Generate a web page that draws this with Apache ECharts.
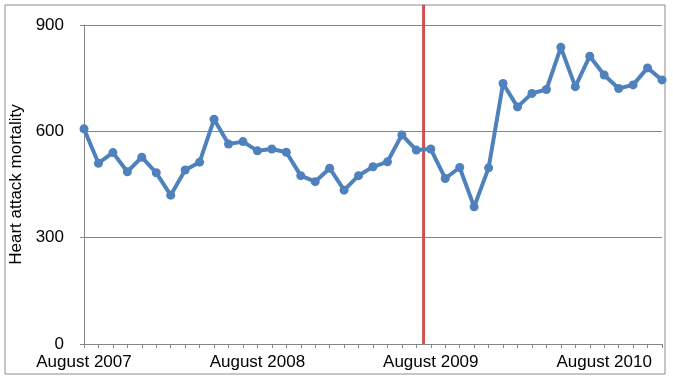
<!DOCTYPE html>
<html>
<head>
<meta charset="utf-8">
<script src="https://cdn.jsdelivr.net/npm/echarts@6/dist/echarts.min.js"></script>
<style>
html,body{margin:0;padding:0;background:#fff;}
#chart{width:673px;height:380px;}
</style>
</head>
<body>
<div id="chart"></div>
<script>
// Months from August 2007 to December 2010
const startYear = 2007, startMonth = 7; // August (0-based)
const monthNames = ['January','February','March','April','May','June','July','August','September','October','November','December'];
const mortality = [607, 510, 540, 486, 527, 483, 420, 491, 513, 634, 564, 571, 545,
  550, 541, 475, 458, 496, 434, 475, 500, 514, 590, 547, 550, 467, 498, 387, 497,
  735, 669, 707, 718, 837, 726, 812, 759, 721, 731, 779, 745];
const categories = mortality.map((_, i) => {
  const m = (startMonth + i) % 12;
  const y = startYear + Math.floor((startMonth + i) / 12);
  return monthNames[m] + ' ' + y;
});
const yTicks = [0, 300, 600, 900];
const interventionIndex = [23.5];
const interventionSpan = [0, 957];

const chart = echarts.init(document.getElementById('chart'), null, {renderer: 'canvas'});
const font = 'Liberation Sans, Arial, sans-serif';
chart.setOption({
  animation: false,
  backgroundColor: '#ffffff',
  graphic: [{
    type: 'rect',
    shape: {x: 5, y: 5, width: 660, height: 369},
    style: {fill: 'none', stroke: '#8c8c8c', lineWidth: 1},
    silent: true,
    z: -1
  }],
  grid: {left: 84, right: 11, top: 25, bottom: 36, containLabel: false, outerBoundsMode: 'none'},
  xAxis: [{
    type: 'category',
    data: categories,
    boundaryGap: false,
    axisLine: {show: true, lineStyle: {color: '#868686', width: 1}},
    axisTick: {show: true, interval: 0, length: 4, lineStyle: {color: '#868686'}},
    axisLabel: {
      interval: 11,
      color: '#000',
      fontFamily: font,
      fontSize: 17,
      margin: 10,
      hideOverlap: false
    },
    splitLine: {show: false}
  }, {
    type: 'value',
    min: 0,
    max: mortality.length - 1,
    show: false
  }],
  yAxis: {
    type: 'value',
    min: yTicks[0],
    max: yTicks[yTicks.length - 1],
    interval: 300,
    name: 'Heart attack mortality',
    nameLocation: 'middle',
    nameRotate: 90,
    nameGap: 58,
    nameTextStyle: {color: '#000', fontFamily: font, fontSize: 17},
    axisLine: {show: true, lineStyle: {color: '#868686', width: 1}},
    axisTick: {show: true, length: 4, lineStyle: {color: '#868686'}},
    axisLabel: {color: '#000', fontFamily: font, fontSize: 17, margin: 20},
    splitLine: {show: true, lineStyle: {color: '#868686', width: 1}}
  },
  series: [{
    type: 'line',
    xAxisIndex: 1,
    data: interventionSpan.map(v => [interventionIndex[0], v]),
    clip: false,
    symbol: 'none',
    lineStyle: {color: '#D0504D', width: 3},
    z: 1,
    silent: true
  }, {
    type: 'line',
    xAxisIndex: 0,
    data: mortality,
    symbol: 'circle',
    symbolSize: 9,
    showSymbol: true,
    lineStyle: {color: '#4F81BD', width: 4},
    itemStyle: {color: '#4F81BD'},
    z: 3
  }]
});
</script>
</body>
</html>
